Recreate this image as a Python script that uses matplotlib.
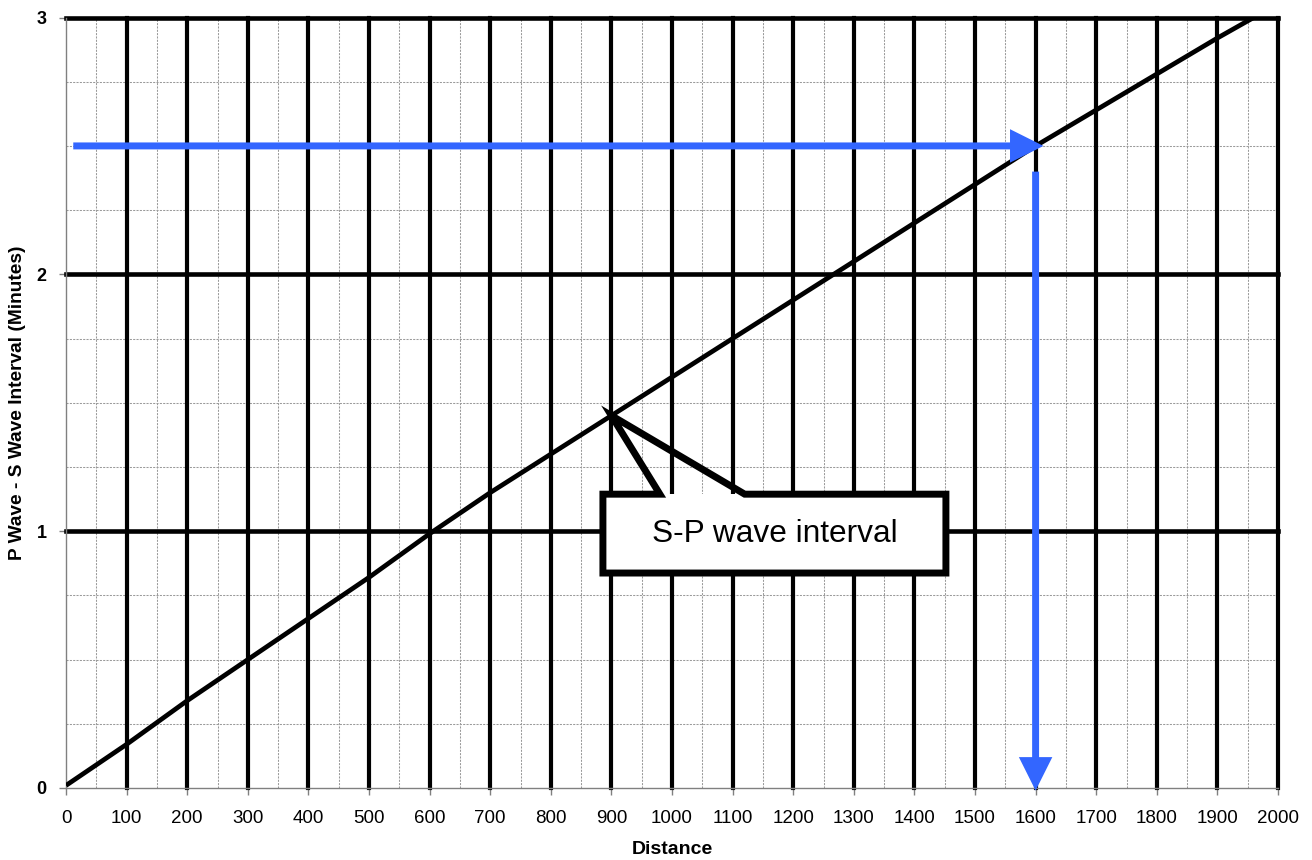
import matplotlib
matplotlib.use("Agg")
import matplotlib.pyplot as plt
from matplotlib.patches import Rectangle, Polygon, FancyArrowPatch
import numpy as np

plt.rcParams['font.family'] = ['Liberation Sans', 'DejaVu Sans']

# ---- data ----
distance = [0, 100, 200, 300, 400, 500, 600, 700, 800, 900, 1000, 1100,
            1200, 1300, 1400, 1500, 1600, 1700, 1800, 1900, 1960]
interval = [0.01, 0.17, 0.34, 0.50, 0.66, 0.82, 0.99, 1.15, 1.30, 1.45, 1.60,
            1.75, 1.90, 2.05, 2.20, 2.35, 2.50, 2.64, 2.78, 2.92, 3.00]
x_ticks = list(range(0, 2001, 100))
y_ticks = [0, 1, 2, 3]
read_interval = 2.5
read_distance = 1605
arrow_start_x = 12
arrow_start_y = 2.40
callout_text = "S-P wave interval"
callout_point = (900, 1.45)
callout_box = (886, 0.837, 1452, 1.144)   # x0, y0, x1, y1
callout_base = (980, 1120)

fig = plt.figure(figsize=(13.12, 8.6), dpi=100)
ax = fig.add_axes([66/1312, 1-788/860, (1278-66)/1312, (788-17.5)/860])
ax.set_xlim(0, 2000)
ax.set_ylim(0, 3)

grey = '#808080'
minor_grey = '#9a9a9a'
# minor grid
for x in np.arange(50, 2000, 100):
    ax.axvline(x, color=minor_grey, lw=0.75, ls=(0, (2, 1.2)), zorder=1)
for y in np.arange(0.25, 3, 0.25):
    if abs(y - round(y)) > 1e-6:
        ax.axhline(y, color=minor_grey, lw=0.75, ls=(0, (2, 1.2)), zorder=1)
# major grid
for x in x_ticks[1:]:
    ax.axvline(x, color='black', lw=3, zorder=2, clip_on=False)
for y in y_ticks[1:]:
    ax.axhline(y, color='black', lw=3.3, zorder=2, clip_on=False)

for s in ['top', 'right']:
    ax.spines[s].set_visible(False)
for s in ['left', 'bottom']:
    ax.spines[s].set_color(grey)
    ax.spines[s].set_linewidth(1)

ax.set_xticks(x_ticks)
ax.set_xticklabels([str(v) for v in x_ticks], fontsize=13.5)
ax.set_yticks(y_ticks)
ax.set_yticklabels([str(v) for v in y_ticks], fontsize=13, fontweight='bold')
ax.tick_params(axis='both', direction='out', length=5, width=1, color=grey)
ax.tick_params(axis='y', pad=9)
ax.tick_params(axis='x', pad=11)

fig.text(672/1312, 1 - 850/860, "Distance", fontsize=14, fontweight='bold',
         ha='center', va='center')
fig.text(18/1312, 1 - 403/860, "P Wave - S Wave Interval (Minutes)", fontsize=13.8,
         fontweight='bold', rotation=90, ha='center', va='center')

# curve
ax.plot(distance, interval, color='black', lw=3.4, zorder=3, solid_capstyle='butt')

# arrows
blue = '#3366FF'
a1 = FancyArrowPatch((arrow_start_x, read_interval), (read_distance + 8, read_interval),
                     arrowstyle='-|>,head_length=16,head_width=8', mutation_scale=1,
                     lw=5, color=blue, shrinkA=0, shrinkB=0, zorder=4,
                     joinstyle='miter', capstyle='butt')
ax.add_patch(a1)
a2 = FancyArrowPatch((read_distance - 5, arrow_start_y), (read_distance - 5, -0.01),
                     arrowstyle='-|>,head_length=16,head_width=8', mutation_scale=1,
                     lw=5, color=blue, shrinkA=0, shrinkB=0, zorder=4, clip_on=False,
                     joinstyle='miter', capstyle='butt')
ax.add_patch(a2)

# callout
bx0, by0, bx1, by1 = callout_box
ax.add_patch(Rectangle((bx0, by0), bx1 - bx0, by1 - by0, facecolor='white',
                       edgecolor='none', zorder=5))
outline = [(bx0, by0), (bx1, by0), (bx1, by1), (callout_base[1], by1),
           callout_point, (callout_base[0], by1), (bx0, by1)]
ax.add_patch(Polygon(outline, closed=True, fill=False, edgecolor='black', lw=5,
                     joinstyle='miter', zorder=6))
ax.text((bx0 + bx1) / 2, (by0 + by1) / 2, callout_text, fontsize=22.8,
        ha='center', va='center', zorder=7)

fig.savefig("out.png", dpi=100)
